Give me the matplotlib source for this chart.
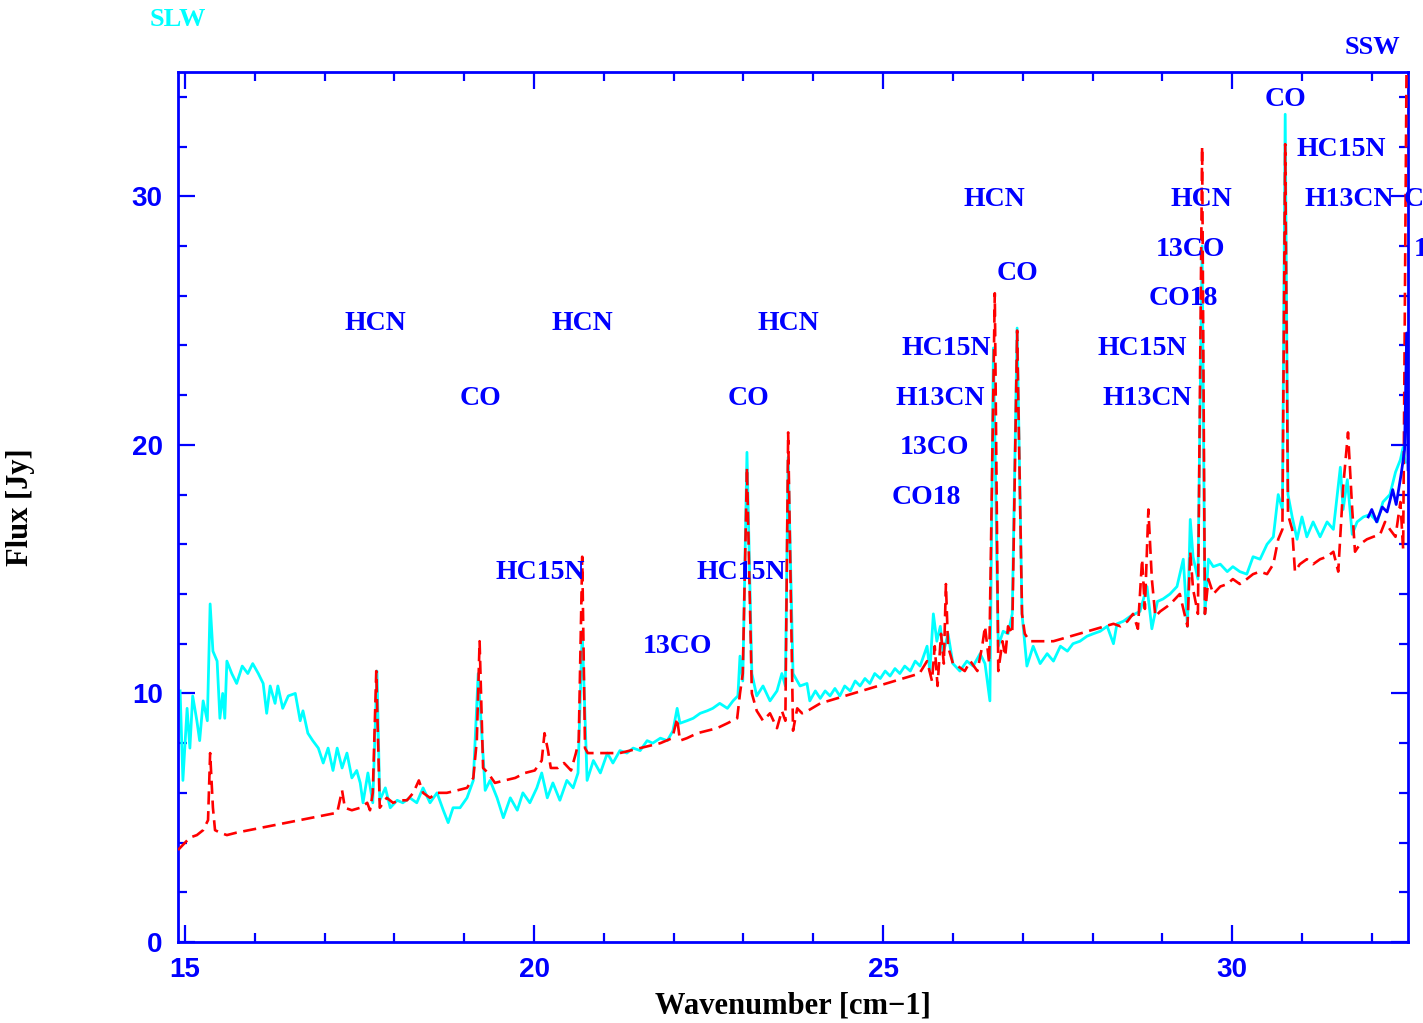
import matplotlib.pyplot as plt
from matplotlib.ticker import MultipleLocator

# SLW spectrum (cyan)
slw_x = [14.93, 14.97, 15.03, 15.07, 15.11, 15.17, 15.21, 15.26, 15.32, 15.36,
         15.40, 15.46, 15.50, 15.54, 15.57, 15.60, 15.67, 15.74, 15.82, 15.90,
         15.97, 16.05, 16.12, 16.17, 16.22, 16.29, 16.33, 16.40, 16.48, 16.58,
         16.65, 16.69, 16.76, 16.83, 16.91, 16.98, 17.05, 17.12, 17.18, 17.25,
         17.32, 17.39, 17.46, 17.51, 17.55, 17.62, 17.69, 17.75, 17.79, 17.87,
         17.94, 18.04, 18.12, 18.22, 18.32, 18.41, 18.51, 18.61, 18.70, 18.77,
         18.84, 18.94, 19.04, 19.13, 19.20, 19.30, 19.37, 19.47, 19.56, 19.66,
         19.76, 19.84, 19.94, 20.04, 20.11, 20.19, 20.27, 20.37, 20.47, 20.56,
         20.63, 20.69, 20.76, 20.85, 20.95, 21.05, 21.13, 21.23, 21.33, 21.42,
         21.52, 21.62, 21.70, 21.81, 21.91, 21.99, 22.05, 22.09, 22.19, 22.28,
         22.38, 22.48, 22.56, 22.66, 22.77, 22.85, 22.92, 22.95, 22.99, 23.05,
         23.12, 23.19, 23.28, 23.38, 23.48, 23.55, 23.60, 23.64, 23.71, 23.81,
         23.91, 23.95, 24.03, 24.10, 24.17, 24.24, 24.31, 24.38, 24.45, 24.53,
         24.60, 24.67, 24.74, 24.81, 24.88, 24.96, 25.03, 25.10, 25.17, 25.24,
         25.31, 25.39, 25.46, 25.53, 25.63, 25.67, 25.72, 25.77, 25.82, 25.86,
         25.93, 26.00, 26.10, 26.20, 26.29, 26.39, 26.46, 26.53, 26.58, 26.65,
         26.72, 26.79, 26.85, 26.92, 26.99, 27.06, 27.15, 27.25, 27.35, 27.44,
         27.54, 27.64, 27.72, 27.82, 27.92, 28.01, 28.11, 28.21, 28.30, 28.35,
         28.44, 28.54, 28.68, 28.78, 28.85, 28.93, 29.01, 29.11, 29.21, 29.30,
         29.36, 29.40, 29.44, 29.51, 29.57, 29.61, 29.66, 29.73, 29.83, 29.93,
         30.01, 30.11, 30.21, 30.30, 30.40, 30.50, 30.59, 30.66, 30.72, 30.76,
         30.80, 30.86, 30.93, 31.00, 31.07, 31.16, 31.26, 31.36, 31.45, 31.55,
         31.59, 31.65, 31.72, 31.79, 31.88, 31.98, 32.08, 32.16, 32.26, 32.34,
         32.41, 32.45, 32.48]
slw_y = [10.1, 6.5, 9.4, 7.8, 9.9, 8.9, 8.1, 9.7, 8.9, 13.6,
         11.7, 11.3, 9.0, 10.0, 9.0, 11.3, 10.8, 10.4, 11.1, 10.8,
         11.2, 10.8, 10.4, 9.2, 10.3, 9.6, 10.3, 9.4, 9.9, 10.0,
         8.9, 9.3, 8.4, 8.1, 7.8, 7.2, 7.8, 6.9, 7.8, 7.0,
         7.6, 6.6, 6.9, 6.4, 5.6, 6.8, 5.6, 10.9, 5.7, 6.2,
         5.4, 5.7, 5.6, 5.8, 5.6, 6.2, 5.6, 6.0, 5.3, 4.8,
         5.4, 5.4, 5.8, 6.5, 10.8, 6.1, 6.5, 5.8, 5.0, 5.8,
         5.3, 6.0, 5.6, 6.2, 6.8, 5.8, 6.4, 5.7, 6.5, 6.2,
         6.8, 12.5, 6.5, 7.3, 6.8, 7.6, 7.2, 7.7, 7.6, 7.8,
         7.7, 8.1, 8.0, 8.2, 8.1, 8.5, 9.4, 8.8, 8.9, 9.0,
         9.2, 9.3, 9.4, 9.6, 9.4, 9.7, 9.9, 11.5, 10.5, 19.7,
         10.8, 9.9, 10.3, 9.7, 10.1, 10.8, 10.3, 19.5, 10.8, 10.3,
         10.4, 9.7, 10.1, 9.8, 10.1, 9.9, 10.2, 9.9, 10.3, 10.1,
         10.5, 10.3, 10.6, 10.4, 10.8, 10.6, 10.9, 10.7, 11.0, 10.8,
         11.1, 10.9, 11.3, 11.1, 11.9, 10.9, 13.2, 12.1, 12.7, 11.6,
         12.4, 11.2, 10.9, 11.3, 11.1, 11.6, 11.2, 9.7, 23.9, 11.9,
         12.5, 12.4, 13.2, 24.7, 13.2, 11.1, 11.9, 11.2, 11.6, 11.3,
         11.9, 11.7, 12.0, 12.1, 12.3, 12.4, 12.5, 12.7, 12.0, 12.8,
         12.9, 13.1, 13.3, 14.3, 12.6, 13.7, 13.8, 14.0, 14.3, 15.4,
         12.7, 17.0, 15.5, 14.6, 28.0, 13.2, 15.4, 15.1, 15.2, 14.9,
         15.1, 14.9, 14.8, 15.5, 15.4, 16.0, 16.3, 18.0, 17.4, 33.3,
         18.0, 17.1, 16.2, 17.1, 16.3, 16.9, 16.3, 16.9, 16.6, 19.1,
         17.4, 18.6, 16.4, 16.9, 17.1, 17.2, 16.9, 17.7, 18.0, 18.9,
         19.4, 19.9, 19.3]

# second spectrum (red dashed)
red_x = [14.90, 15.07, 15.17, 15.26, 15.33, 15.36, 15.40, 15.43, 15.50, 15.60,
         15.74, 17.18, 17.25, 17.29, 17.39, 17.51, 17.61, 17.65, 17.69, 17.74,
         17.79, 17.89, 17.98, 18.08, 18.18, 18.27, 18.35, 18.41, 18.51, 18.61,
         18.75, 18.90, 19.04, 19.13, 19.18, 19.22, 19.27, 19.34, 19.44, 19.58,
         19.73, 19.87, 20.01, 20.11, 20.15, 20.20, 20.24, 20.34, 20.43, 20.53,
         20.60, 20.64, 20.69, 20.73, 20.77, 20.85, 20.99, 21.23, 21.52, 21.81,
         21.98, 22.05, 22.09, 22.19, 22.34, 22.48, 22.62, 22.77, 22.91, 22.95,
         22.99, 23.05, 23.12, 23.19, 23.28, 23.38, 23.48, 23.55, 23.60, 23.64,
         23.71, 23.77, 23.84, 23.92, 24.10, 25.52, 25.63, 25.70, 25.74, 25.78,
         25.83, 25.87, 25.90, 25.93, 26.00, 26.07, 26.17, 26.25, 26.35, 26.42,
         26.46, 26.52, 26.60, 26.65, 26.71, 26.75, 26.79, 26.85, 26.92, 26.99,
         27.03, 27.10, 27.20, 27.44, 28.30, 28.40, 28.50, 28.58, 28.65, 28.71,
         28.75, 28.80, 28.85, 28.90, 28.97, 29.07, 29.15, 29.25, 29.36, 29.40,
         29.44, 29.51, 29.57, 29.61, 29.66, 29.73, 29.83, 29.93, 30.01, 30.11,
         30.21, 30.30, 30.40, 30.50, 30.59, 30.66, 30.72, 30.76, 30.80, 30.86,
         30.90, 30.97, 31.07, 31.16, 31.26, 31.36, 31.45, 31.52, 31.59, 31.66,
         31.72, 31.76, 31.83, 31.93, 32.02, 32.12, 32.19, 32.26, 32.34, 32.41,
         32.45, 32.50]
red_y = [3.7, 4.2, 4.3, 4.5, 4.9, 7.6, 5.4, 4.5, 4.4, 4.3,
         4.4, 5.2, 6.1, 5.4, 5.3, 5.4, 5.6, 5.3, 6.0, 10.9,
         5.4, 5.8, 5.6, 5.7, 5.7, 6.0, 6.5, 6.0, 5.8, 6.0,
         6.0, 6.1, 6.2, 6.6, 8.1, 12.1, 7.0, 6.8, 6.4, 6.5,
         6.6, 6.8, 6.9, 7.3, 8.4, 7.7, 7.0, 7.0, 7.2, 6.9,
         7.6, 8.1, 15.5, 7.8, 7.6, 7.6, 7.6, 7.6, 7.8, 8.0,
         8.2, 9.0, 8.1, 8.2, 8.4, 8.5, 8.6, 8.8, 9.0, 10.0,
         10.8, 19.1, 10.0, 9.3, 8.9, 9.2, 8.6, 9.3, 8.9, 20.5,
         8.5, 9.4, 9.2, 9.3, 9.6, 10.8, 11.3, 10.5, 11.9, 10.3,
         12.4, 11.2, 14.4, 11.9, 11.2, 11.1, 10.9, 11.3, 10.9, 11.9,
         12.7, 11.2, 26.1, 10.9, 12.1, 11.5, 12.7, 12.4, 24.6, 13.2,
         12.4, 12.1, 12.1, 12.1, 12.8, 12.7, 12.9, 13.2, 12.6, 15.4,
         13.4, 17.4, 14.6, 13.1, 13.3, 13.5, 13.7, 14.0, 12.7, 15.7,
         14.2, 13.2, 32.0, 13.2, 14.6, 14.0, 14.3, 14.4, 14.6, 14.4,
         14.6, 14.8, 14.9, 14.8, 15.2, 16.2, 16.6, 32.1, 17.2, 16.6,
         14.9, 15.2, 15.4, 15.2, 15.4, 15.5, 15.7, 14.9, 18.3, 20.5,
         17.4, 15.7, 16.0, 16.2, 16.3, 16.4, 16.9, 16.6, 16.3, 17.7,
         15.8, 36.0]

# start of the SSW spectrum (blue)
ssw_x = [31.95, 32.00, 32.07, 32.15, 32.22, 32.30, 32.35, 32.42, 32.47, 32.50, 32.52]
ssw_y = [17.1, 17.4, 16.9, 17.5, 17.3, 18.2, 17.6, 18.8, 19.8, 24.5, 19.0]

# line identifications
line_names = ["HCN", "CO", "HCN", "HC15N", "HCN", "CO", "HC15N", "13CO",
              "HCN", "CO", "HC15N", "H13CN", "13CO", "CO18",
              "HCN", "13CO", "CO18", "HC15N", "H13CN",
              "CO", "HC15N", "H13CN", "CO", "13CO"]
line_x = [17.72, 19.23, 20.69, 20.09, 23.64, 23.07, 22.97, 22.06,
          26.60, 26.92, 25.90, 25.82, 25.73, 25.62,
          29.56, 29.41, 29.30, 28.71, 28.78,
          30.76, 31.56, 31.68, 32.75, 33.10]
line_y = [25, 22, 25, 15, 25, 22, 15, 12,
          30, 27, 24, 22, 20, 18,
          30, 28, 26, 24, 22,
          34, 32, 30, 30, 28]

blue = '#0000ff'

fig = plt.figure(figsize=(14.23, 10.23), dpi=100)
ax = fig.add_axes([0.1251, 0.0792, 0.8644, 0.8504])

ax.plot(slw_x, slw_y, color='#00ffff', lw=2.0, zorder=2)
ax.plot(red_x, red_y, color='#ff0000', lw=1.9, ls=(0, (5, 2.5)), zorder=3)
ax.plot(ssw_x, ssw_y, color=blue, lw=2.0, zorder=4)

for name, x, y in zip(line_names, line_x, line_y):
    ax.text(x, y, name, color=blue, fontsize=20, fontweight='bold',
            family='Liberation Serif', ha='center', va='center_baseline')

ax.set_xlim(14.9, 32.52)
ax.set_ylim(0, 35)
ax.xaxis.set_major_locator(MultipleLocator(5))
ax.xaxis.set_minor_locator(MultipleLocator(1))
ax.yaxis.set_major_locator(MultipleLocator(10))
ax.yaxis.set_minor_locator(MultipleLocator(2))

for s in ax.spines.values():
    s.set_color(blue)
    s.set_linewidth(2)
ax.tick_params(which='both', direction='in', top=True, right=True,
               color=blue, width=1.6, labelcolor=blue, labelsize=20, pad=11)
ax.tick_params(which='major', length=12)
ax.tick_params(which='minor', length=6.5)
for lab in ax.get_xticklabels() + ax.get_yticklabels():
    lab.set_family('Liberation Sans')
    lab.set_fontweight('bold')

ax.set_xlabel('Wavenumber [cm\u22121]', family='Liberation Serif', fontweight='bold',
              fontsize=22, color='black', labelpad=6)
ax.set_ylabel('Flux [Jy]', family='Liberation Serif', fontweight='bold',
              fontsize=22, color='black', labelpad=70)

fig.text(178 / 1423, 1 - 20 / 1023, 'SLW', color='#00ffff', fontsize=19,
         fontweight='bold', family='Liberation Serif', ha='center', va='center')
fig.text(1372 / 1423, 1 - 47 / 1023, 'SSW', color=blue, fontsize=19,
         fontweight='bold', family='Liberation Serif', ha='center', va='center')

fig.savefig('out.png', dpi=100)
